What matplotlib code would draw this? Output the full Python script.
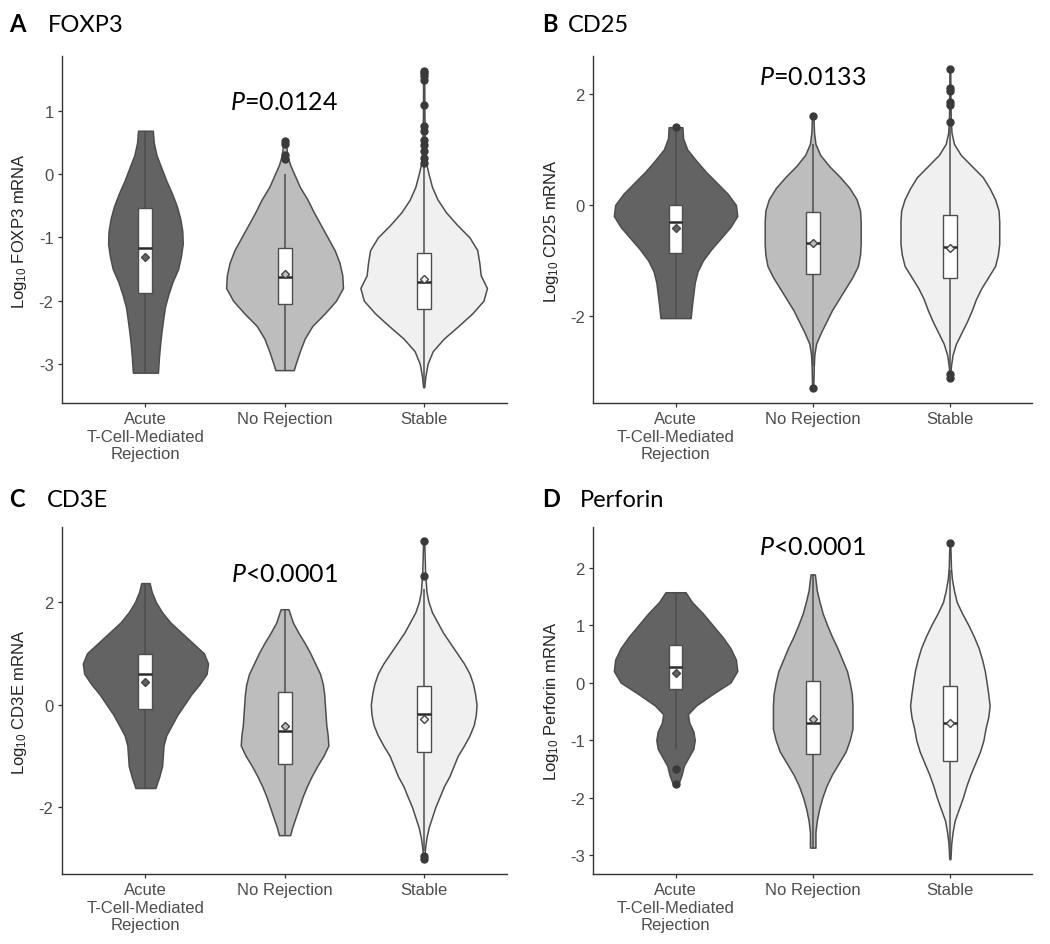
import matplotlib
matplotlib.use("Agg")
import matplotlib.pyplot as plt
from matplotlib.patches import Rectangle
import numpy as np

plt.rcParams['axes.unicode_minus'] = False
plt.rcParams['mathtext.fontset'] = 'custom'
plt.rcParams['mathtext.rm'] = 'Lato'
plt.rcParams['mathtext.it'] = 'Lato:italic'
plt.rcParams['font.family'] = ['Liberation Sans', 'DejaVu Sans']

# ---------------- data ----------------
CATEGORIES = ["Acute\nT-Cell-Mediated\nRejection", "No Rejection", "Stable"]
GENES = ["FOXP3", "CD25", "CD3E", "Perforin"]
LETTERS = ["A", "B", "C", "D"]
P_LABELS = [r"$\mathit{P}$=0.0124", r"$\mathit{P}$=0.0133",
            r"$\mathit{P}$<0.0001", r"$\mathit{P}$<0.0001"]

# violin outlines: y (log10 value) and half-width (category units)
FOXP3_ACUTE_Y = [0.69, 0.50, 0.30, 0.10, -0.10, -0.30, -0.50, -0.70, -0.90, -1.10, -1.30, -1.50, -1.70, -1.90, -2.10, -2.30, -2.50, -2.70, -2.90, -3.14]
FOXP3_ACUTE_W = [0.053, 0.06, 0.08, 0.115, 0.15, 0.19, 0.225, 0.25, 0.265, 0.268, 0.255, 0.235, 0.195, 0.165, 0.14, 0.127, 0.115, 0.105, 0.097, 0.09]
FOXP3_NOREJ_Y = [0.55, 0.45, 0.30, 0.15, 0.0, -0.2, -0.4, -0.6, -0.8, -1.0, -1.2, -1.4, -1.6, -1.8, -2.0, -2.2, -2.4, -2.6, -2.8, -3.0, -3.1]
FOXP3_NOREJ_W = [0.008, 0.012, 0.02, 0.04, 0.07, 0.11, 0.165, 0.21, 0.26, 0.31, 0.36, 0.395, 0.415, 0.42, 0.37, 0.29, 0.20, 0.145, 0.11, 0.08, 0.066]
FOXP3_STABLE_Y = [1.65, 1.0, 0.5, 0.2, 0.0, -0.2, -0.4, -0.6, -0.8, -1.0, -1.2, -1.4, -1.6, -1.8, -2.0, -2.2, -2.4, -2.6, -2.8, -3.0, -3.2, -3.37]
FOXP3_STABLE_W = [0.004, 0.005, 0.008, 0.015, 0.036, 0.06, 0.10, 0.16, 0.24, 0.33, 0.385, 0.40, 0.41, 0.455, 0.43, 0.35, 0.25, 0.145, 0.065, 0.028, 0.012, 0.004]

CD25_ACUTE_Y = [1.40, 1.2, 1.0, 0.8, 0.6, 0.4, 0.2, 0.0, -0.2, -0.4, -0.6, -0.8, -1.0, -1.2, -1.4, -1.6, -1.8, -2.04]
CD25_ACUTE_W = [0.05, 0.055, 0.085, 0.15, 0.22, 0.30, 0.38, 0.44, 0.45, 0.40, 0.33, 0.26, 0.20, 0.16, 0.14, 0.13, 0.12, 0.11]
CD25_NOREJ_Y = [1.6, 1.3, 1.1, 0.9, 0.7, 0.5, 0.3, 0.1, -0.1, -0.3, -0.5, -0.7, -0.9, -1.1, -1.3, -1.5, -1.7, -1.9, -2.1, -2.3, -2.5, -2.7, -2.9, -3.1, -3.3]
CD25_NOREJ_W = [0.005, 0.01, 0.02, 0.055, 0.12, 0.2, 0.27, 0.32, 0.345, 0.35, 0.35, 0.35, 0.345, 0.33, 0.29, 0.24, 0.19, 0.14, 0.10, 0.06, 0.025, 0.012, 0.008, 0.006, 0.004]
CD25_STABLE_Y = [2.45, 2.0, 1.6, 1.3, 1.1, 0.9, 0.7, 0.5, 0.3, 0.1, -0.1, -0.3, -0.5, -0.7, -0.9, -1.1, -1.3, -1.5, -1.7, -1.9, -2.1, -2.3, -2.5, -2.7, -2.9, -3.05]
CD25_STABLE_W = [0.003, 0.004, 0.006, 0.012, 0.03, 0.08, 0.16, 0.24, 0.29, 0.33, 0.355, 0.36, 0.36, 0.36, 0.35, 0.33, 0.28, 0.23, 0.19, 0.16, 0.125, 0.085, 0.045, 0.02, 0.008, 0.004]

CD3E_ACUTE_Y = [2.37, 2.2, 2.0, 1.8, 1.6, 1.4, 1.2, 1.0, 0.8, 0.6, 0.4, 0.2, 0.0, -0.2, -0.4, -0.6, -0.8, -1.0, -1.2, -1.4, -1.63]
CD3E_ACUTE_W = [0.03, 0.045, 0.075, 0.12, 0.18, 0.26, 0.34, 0.42, 0.45, 0.44, 0.39, 0.33, 0.28, 0.23, 0.19, 0.15, 0.13, 0.125, 0.12, 0.10, 0.072]
CD3E_NOREJ_Y = [1.86, 1.6, 1.4, 1.2, 1.0, 0.8, 0.6, 0.4, 0.2, 0.0, -0.2, -0.4, -0.6, -0.8, -1.0, -1.2, -1.4, -1.6, -1.8, -2.0, -2.2, -2.4, -2.55]
CD3E_NOREJ_W = [0.028, 0.06, 0.10, 0.145, 0.185, 0.22, 0.255, 0.275, 0.285, 0.29, 0.295, 0.30, 0.31, 0.315, 0.28, 0.235, 0.195, 0.16, 0.13, 0.105, 0.08, 0.055, 0.04]
CD3E_STABLE_Y = [3.2, 2.6, 2.2, 2.0, 1.8, 1.6, 1.4, 1.2, 1.0, 0.8, 0.6, 0.4, 0.2, 0.0, -0.2, -0.4, -0.6, -0.8, -1.0, -1.2, -1.4, -1.6, -1.8, -2.0, -2.2, -2.4, -2.6, -2.8, -2.98]
CD3E_STABLE_W = [0.004, 0.01, 0.02, 0.035, 0.06, 0.10, 0.14, 0.19, 0.24, 0.29, 0.33, 0.355, 0.37, 0.38, 0.375, 0.36, 0.33, 0.29, 0.245, 0.215, 0.185, 0.145, 0.115, 0.084, 0.06, 0.036, 0.02, 0.01, 0.004]

PERF_ACUTE_Y = [1.57, 1.4, 1.2, 1.0, 0.8, 0.6, 0.4, 0.2, 0.0, -0.2, -0.4, -0.55, -0.7, -0.85, -1.0, -1.15, -1.3, -1.45, -1.6, -1.8]
PERF_ACUTE_W = [0.073, 0.12, 0.20, 0.27, 0.34, 0.40, 0.44, 0.45, 0.40, 0.27, 0.15, 0.09, 0.10, 0.13, 0.14, 0.13, 0.095, 0.06, 0.045, 0.015]
PERF_NOREJ_Y = [1.88, 1.6, 1.4, 1.2, 1.0, 0.8, 0.6, 0.4, 0.2, 0.0, -0.2, -0.4, -0.6, -0.8, -1.0, -1.2, -1.4, -1.6, -1.8, -2.0, -2.2, -2.4, -2.6, -2.87]
PERF_NOREJ_W = [0.016, 0.03, 0.05, 0.073, 0.105, 0.14, 0.18, 0.215, 0.25, 0.27, 0.285, 0.29, 0.29, 0.29, 0.27, 0.24, 0.19, 0.14, 0.10, 0.07, 0.047, 0.03, 0.02, 0.02]
PERF_STABLE_Y = [2.43, 2.0, 1.8, 1.6, 1.4, 1.2, 1.0, 0.8, 0.6, 0.4, 0.2, 0.0, -0.2, -0.4, -0.6, -0.8, -1.0, -1.2, -1.4, -1.6, -1.8, -2.0, -2.2, -2.4, -2.6, -2.8, -3.07]
PERF_STABLE_W = [0.003, 0.008, 0.015, 0.03, 0.05, 0.09, 0.135, 0.175, 0.21, 0.235, 0.255, 0.268, 0.28, 0.29, 0.28, 0.26, 0.245, 0.22, 0.185, 0.15, 0.12, 0.095, 0.065, 0.035, 0.02, 0.01, 0.004]

# box statistics per group (Acute, No Rejection, Stable)
FOXP3_Q1 = [-1.88, -2.05, -2.13]
FOXP3_MED = [-1.16, -1.63, -1.71]
FOXP3_Q3 = [-0.54, -1.16, -1.24]
FOXP3_MEAN = [-1.31, -1.58, -1.65]
FOXP3_WLO = [-3.14, -3.10, -3.35]
FOXP3_WHI = [0.69, 0.0, 0.15]
FOXP3_OUT = [[], [0.25, 0.30, 0.48, 0.52],
             [0.18, 0.26, 0.37, 0.47, 0.55, 0.68, 0.76, 1.10, 1.50, 1.55, 1.60, 1.63]]

CD25_Q1 = [-0.86, -1.25, -1.31]
CD25_MED = [-0.31, -0.69, -0.75]
CD25_Q3 = [0.0, -0.13, -0.19]
CD25_MEAN = [-0.42, -0.69, -0.77]
CD25_WLO = [-2.04, -2.9, -2.95]
CD25_WHI = [1.40, 1.1, 1.45]
CD25_OUT = [[1.40], [1.6, -3.3], [1.5, 1.8, 1.85, 2.05, 2.1, 2.45, -3.05, -3.12]]

CD3E_Q1 = [-0.08, -1.16, -0.93]
CD3E_MED = [0.60, -0.51, -0.19]
CD3E_Q3 = [0.99, 0.24, 0.37]
CD3E_MEAN = [0.44, -0.41, -0.28]
CD3E_WLO = [-1.63, -2.55, -2.85]
CD3E_WHI = [2.37, 1.86, 2.25]
CD3E_OUT = [[], [], [2.5, 3.2, -2.95, -3.02]]

PERF_Q1 = [-0.12, -1.24, -1.37]
PERF_MED = [0.27, -0.70, -0.70]
PERF_Q3 = [0.66, 0.02, -0.06]
PERF_MEAN = [0.16, -0.63, -0.71]
PERF_WLO = [-1.16, -2.87, -3.07]
PERF_WHI = [1.57, 1.88, 1.95]
PERF_OUT = [[-1.51, -1.77], [], [2.43]]

YTICKS = [[-3, -2, -1, 0, 1], [-2, 0, 2], [-2, 0, 2], [-3, -2, -1, 0, 1, 2]]

# ---------------- style / layout ----------------
FILLS = ["#636363", "#bdbdbd", "#f0f0f0"]
EDGE = "#4d4d4d"
BOX_W = 0.1
YLIMS = [(-3.62, 1.87), (-3.57, 2.68), (-3.31, 3.46), (-3.33, 2.70)]
P_Y = [1.16, 2.32, 2.55, 2.37]
AX_POS = [[0.059, 0.5725, 0.424, 0.367], [0.565, 0.5725, 0.418, 0.367],
          [0.059, 0.074, 0.424, 0.367], [0.565, 0.074, 0.418, 0.367]]
LETTER_X = [9, 542, 9, 542]
NAME_X = [48, 568, 47, 580]
TITLE_Y = [32, 32, 507, 507]

VIOLINS = [
    [(FOXP3_ACUTE_Y, FOXP3_ACUTE_W), (FOXP3_NOREJ_Y, FOXP3_NOREJ_W), (FOXP3_STABLE_Y, FOXP3_STABLE_W)],
    [(CD25_ACUTE_Y, CD25_ACUTE_W), (CD25_NOREJ_Y, CD25_NOREJ_W), (CD25_STABLE_Y, CD25_STABLE_W)],
    [(CD3E_ACUTE_Y, CD3E_ACUTE_W), (CD3E_NOREJ_Y, CD3E_NOREJ_W), (CD3E_STABLE_Y, CD3E_STABLE_W)],
    [(PERF_ACUTE_Y, PERF_ACUTE_W), (PERF_NOREJ_Y, PERF_NOREJ_W), (PERF_STABLE_Y, PERF_STABLE_W)],
]
BOXES = [
    (FOXP3_Q1, FOXP3_MED, FOXP3_Q3, FOXP3_MEAN, FOXP3_WLO, FOXP3_WHI, FOXP3_OUT),
    (CD25_Q1, CD25_MED, CD25_Q3, CD25_MEAN, CD25_WLO, CD25_WHI, CD25_OUT),
    (CD3E_Q1, CD3E_MED, CD3E_Q3, CD3E_MEAN, CD3E_WLO, CD3E_WHI, CD3E_OUT),
    (PERF_Q1, PERF_MED, PERF_Q3, PERF_MEAN, PERF_WLO, PERF_WHI, PERF_OUT),
]

W, H = 1050, 945
fig = plt.figure(figsize=(W / 100, H / 100), dpi=100)

for k in range(4):
    ax = fig.add_axes(AX_POS[k])
    q1, med, q3, mean, wlo, whi, outs = BOXES[k]
    for i in range(3):
        x = i + 1
        vy = np.asarray(VIOLINS[k][i][0])
        vw = np.asarray(VIOLINS[k][i][1])
        ax.fill_betweenx(vy, x - vw, x + vw, facecolor=FILLS[i], edgecolor=EDGE,
                         linewidth=1.1, zorder=1)
        ax.plot([x, x], [wlo[i], q1[i]], color=EDGE, lw=1.1, zorder=2, solid_capstyle='butt')
        ax.plot([x, x], [q3[i], whi[i]], color=EDGE, lw=1.1, zorder=2, solid_capstyle='butt')
        ax.add_patch(Rectangle((x - BOX_W / 2, q1[i]), BOX_W, q3[i] - q1[i],
                               facecolor="white", edgecolor=EDGE, lw=1.0, zorder=3))
        ax.plot([x - BOX_W / 2, x + BOX_W / 2], [med[i], med[i]], color="#2a2a2a",
                lw=1.8, zorder=4, solid_capstyle='butt')
        if outs[i]:
            ax.plot([x] * len(outs[i]), outs[i], 'o', ms=5, color="#3a3a3a",
                    mec="#3a3a3a", zorder=5)
        ax.plot([x], [mean[i]], 'D', ms=4.2, mfc=FILLS[i], mec="#444444", mew=1.0, zorder=6)

    ax.set_xlim(0.4, 3.6)
    ax.set_ylim(*YLIMS[k])
    ax.set_xticks([1, 2, 3])
    ax.set_xticklabels(CATEGORIES)
    ax.set_yticks(YTICKS[k])
    ax.set_yticklabels([str(t) for t in YTICKS[k]])
    for s in ["top", "right"]:
        ax.spines[s].set_visible(False)
    for s in ["left", "bottom"]:
        ax.spines[s].set_color("#333333")
        ax.spines[s].set_linewidth(1.0)
    ax.tick_params(axis="both", length=3, width=0.9, color="#333333",
                   labelsize=12, labelcolor="#4d4d4d", pad=3)
    ax.set_ylabel("Log$_{\\mathregular{10}}$ " + GENES[k] + " mRNA", fontsize=12, color="#222222")
    ax.yaxis.set_label_coords(-0.074, 0.5)
    ax.text(2, P_Y[k], P_LABELS[k], ha="center", va="center", fontsize=18,
            family="Lato", color="black")

    fig.text(LETTER_X[k] / W, 1 - TITLE_Y[k] / H, LETTERS[k], fontsize=17,
             fontweight="bold", family="Lato", va="baseline", ha="left")
    fig.text(NAME_X[k] / W, 1 - TITLE_Y[k] / H, GENES[k], fontsize=17,
             family="Lato", va="baseline", ha="left")

fig.savefig("out.png", dpi=100)
